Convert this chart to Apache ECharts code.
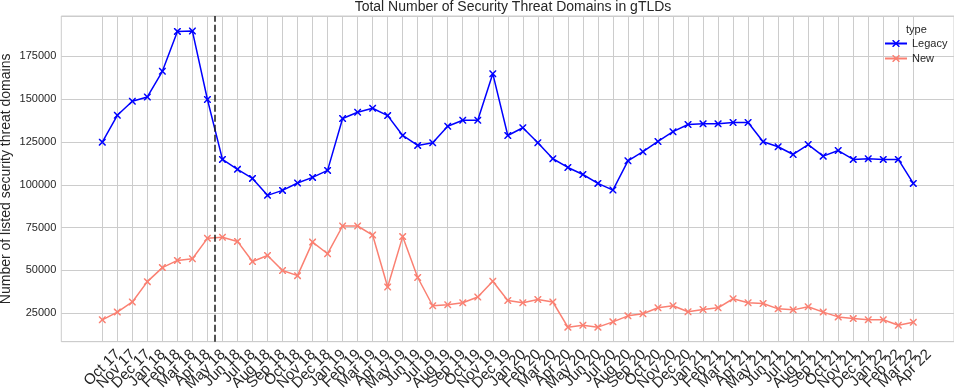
<!DOCTYPE html>
<html><head><meta charset="utf-8">
<script src="https://cdn.jsdelivr.net/npm/echarts@6/dist/echarts.min.js"></script>
<style>html,body{margin:0;padding:0;background:#fff}#c{width:954px;height:388px}</style>
</head><body><div id="c"></div>
<script>
const categories = ['Oct 17','Nov 17','Dec 17','Jan 18','Feb 18','Mar 18','Apr 18','May 18','Jun 18','Jul 18','Aug 18','Sep 18','Oct 18','Nov 18','Dec 18','Jan 19','Feb 19','Mar 19','Apr 19','May 19','Jun 19','Jul 19','Aug 19','Sep 19','Oct 19','Nov 19','Dec 19','Jan 20','Feb 20','Mar 20','Apr 20','May 20','Jun 20','Jul 20','Aug 20','Sep 20','Oct 20','Nov 20','Dec 20','Jan 21','Feb 21','Mar 21','Apr 21','May 21','Jun 21','Jul 21','Aug 21','Sep 21','Oct 21','Nov 21','Dec 21','Jan 22','Feb 22','Mar 22','Apr 22'];
const legacy = [124900,140600,148800,151300,166300,189600,189800,149800,114800,109000,103700,93800,96700,101000,104300,108400,138700,142400,144700,140400,128800,123000,124500,134200,137700,137700,164900,128800,133300,124500,115200,110100,106000,100800,96900,114000,119300,125300,131000,135200,135600,135600,136400,136400,125100,122200,117700,123500,116700,120000,114800,115200,114800,114800,100800];
const newTld = [21100,25600,31500,43400,51600,55800,56800,68700,69300,66900,55200,58700,49900,46900,66500,59700,75900,75900,70600,40300,69700,45800,29300,29900,31100,34400,43600,32400,31100,33000,31500,16800,17900,16800,19900,23400,24600,28100,29300,25800,27100,28100,33400,31100,30600,27500,26900,28700,25600,22800,21800,21100,21100,17900,19700];
const seriesNames = ['Legacy','New'];
const yTicks = [25000,50000,75000,100000,125000,150000,175000];
const markerIndex = 7.5; // between May 18 and Jun 18

const FONT = "'Liberation Sans', Arial, sans-serif";
const TXT = '#262626';
const GRIDC = '#cccccc';
const X_SYMBOL = 'path://M0,0 L1.5,0 L5,3.5 L8.5,0 L10,0 L10,1.5 L6.5,5 L10,8.5 L10,10 L8.5,10 L5,6.5 L1.5,10 L0,10 L0,8.5 L3.5,5 L0,1.5 Z';
const yMin = 8300, yMax = 198600;

const chart = echarts.init(document.getElementById('c'), null, {renderer: 'canvas'});
const toPairs = arr => arr.map((v, i) => [i, v]);

chart.setOption({
  animation: false,
  textStyle: {fontFamily: FONT},
  title: [
    {text: 'Total Number of Security Threat Domains in gTLDs', left: 508, textAlign: 'center', top: -5,
     textStyle: {fontFamily: FONT, fontSize: 14, fontWeight: 'normal', color: TXT}},
    {text: 'type', left: 906, top: 24, padding: 0,
     textStyle: {fontFamily: FONT, fontSize: 11, fontWeight: 'normal', color: TXT}}
  ],
  legend: {
    orient: 'vertical', left: 884, top: 38, padding: 0, itemGap: 4,
    itemWidth: 22, itemHeight: 9,
    textStyle: {fontFamily: FONT, fontSize: 11, color: TXT},
    data: seriesNames
  },
  grid: [
    {left: 102.3, right: 40.7, top: 16, bottom: 46.3, show: false, containLabel: false, outerBoundsMode: 'none'},
    {left: 61.3, right: 0, top: 16, bottom: 46.3, show: true, borderColor: GRIDC, borderWidth: 1, backgroundColor: 'transparent', containLabel: false, outerBoundsMode: 'none'}
  ],
  xAxis: [
    {type: 'value', gridIndex: 0, min: 0, max: categories.length - 1, minInterval: 1, maxInterval: 1,
     position: 'bottom',
     axisLine: {show: false}, axisTick: {show: false}, axisLabel: {show: false},
     splitLine: {show: true, lineStyle: {color: GRIDC, width: 1}}},
    {type: 'value', gridIndex: 1, min: 0, max: 1, show: false},
    {type: 'category', gridIndex: 0, data: categories, boundaryGap: false, position: 'bottom', offset: 0,
     axisLine: {show: false}, axisTick: {show: false}, splitLine: {show: false},
     axisLabel: {interval: 0, rotate: 45, fontSize: 15, color: TXT, fontFamily: FONT, margin: 26, padding: [0, -22, 0, 0]}}
  ],
  yAxis: [
    {type: 'value', gridIndex: 0, min: yMin, max: yMax, show: false, splitLine: {show: false}},
    {type: 'value', gridIndex: 1, min: yMin, max: yMax, minInterval: 25000, maxInterval: 25000,
     axisLine: {show: false}, axisTick: {show: false},
     splitLine: {show: true, lineStyle: {color: GRIDC, width: 1}},
     axisLabel: {fontSize: 11, color: TXT, fontFamily: FONT, margin: 5, showMinLabel: false, showMaxLabel: false,
       formatter: v => yTicks.includes(v) ? String(v) : ''},
     name: 'Number of listed security threat domains', nameLocation: 'middle', nameGap: 48, nameMoveOverlap: false,
     nameTextStyle: {fontSize: 14, color: TXT, fontFamily: FONT}}
  ],
  series: [
    {name: seriesNames[0], type: 'line', xAxisIndex: 0, yAxisIndex: 0, data: toPairs(legacy),
     symbol: X_SYMBOL, symbolSize: 7, showAllSymbol: true,
     lineStyle: {color: '#0000ff', width: 1.5}, itemStyle: {color: '#0000ff'},
     markLine: {silent: true, symbol: ['none', 'none'], label: {show: false},
       lineStyle: {color: '#1a1a1a', type: [7, 3], width: 1.5},
       data: [{xAxis: markerIndex}]}},
    {name: seriesNames[1], type: 'line', xAxisIndex: 0, yAxisIndex: 0, data: toPairs(newTld),
     symbol: X_SYMBOL, symbolSize: 7, showAllSymbol: true,
     lineStyle: {color: '#fa8072', width: 1.5}, itemStyle: {color: '#fa8072'}}
  ]
});
</script></body></html>
